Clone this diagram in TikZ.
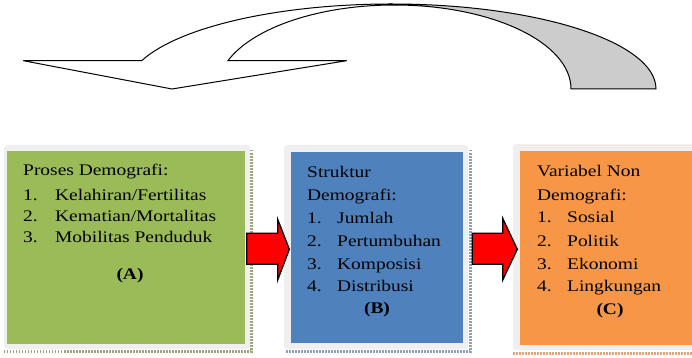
\documentclass[tikz,border=0pt]{standalone}
\usepackage{fontspec}
\setmainfont[FakeStretch=1.2]{Liberation Serif}
\definecolor{ogreen}{HTML}{9BBB59}
\definecolor{oblue}{HTML}{4F81BD}
\definecolor{oorange}{HTML}{F79646}
\definecolor{framegray}{HTML}{EFEFEF}
\definecolor{dotA}{HTML}{9DA47E}
\definecolor{dotB}{HTML}{8E9FC2}
\definecolor{dotC}{HTML}{E2A67A}
\begin{document}
\begin{tikzpicture}[x=1pt,y=-1pt,
  frame/.style={fill=framegray, rounded corners=3pt, inner sep=0pt, draw=none},
  colbox/.style={inner sep=0pt, draw=none},
  txt/.style={anchor=base west, inner sep=0pt, font=\fontsize{16.2}{20}\selectfont},
  lbl/.style={anchor=base, inner sep=0pt, font=\fontsize{16.2}{20}\selectfont\bfseries},
  shadow/.style={line width=3pt, dash pattern=on 1.5pt off 1.5pt},
  redarrow/.style={fill=red, draw=black, line width=1.3pt, line join=miter}]
\useasboundingbox (0,0) rectangle (692,358);

% top curved arrow
\fill[white, draw=black, line width=1pt, line join=miter]
  (23.3,60.7) -- (141.7,60.7)
  arc[start angle=199.45, end angle=270, x radius=264.7, y radius=85]
  -- (394.3,5)
  arc[start angle=270, end angle=199.69, x radius=176.7, y radius=84]
  -- (346.7,60.7) -- (172,89) -- cycle;
\fill[gray!40, draw=black, line width=1pt]
  (391.3,4)
  arc[start angle=270, end angle=360, x radius=264.7, y radius=85]
  -- (571,89)
  arc[start angle=0, end angle=-90, x radius=176.7, y radius=84]
  -- cycle;

% box A
\draw[shadow, dotA] (251,150) -- (251,351.5) -- (4,351.5);
\node[frame, minimum width=246pt, minimum height=204pt] (frameA) at (127,247) {};
\node[colbox, fill=ogreen, minimum width=237.5pt, minimum height=192.5pt] (boxA) at (125.75,247.25) {};
\node[txt] (a0) at (23,175.7) {Proses Demografi:};
\node[txt] (a1n) at (23,200.7) {1.};
\node[txt] (a1) at (55,200.7) {Kelahiran/Fertilitas};
\node[txt] (a2n) at (23,221.7) {2.};
\node[txt] (a2) at (55,221.7) {Kematian/Mortalitas};
\node[txt] (a3n) at (23,242.5) {3.};
\node[txt] (a3) at (55,242.5) {Mobilitas Penduduk};
\node[lbl] (aL) at (130,279) {(A)};

% box B
\draw[shadow, dotB] (470,150) -- (470,351.5) -- (285,351.5);
\node[frame, minimum width=184pt, minimum height=204pt] (frameB) at (376,247) {};
\node[colbox, fill=oblue, minimum width=172pt, minimum height=191pt] (boxB) at (377,247.5) {};
\node[txt] (b0) at (307,177.5) {Struktur};
\node[txt] (b00) at (307,200.5) {Demografi:};
\node[txt] (b1n) at (307,223.3) {1.};
\node[txt] (b1) at (337,223.3) {Jumlah};
\node[txt] (b2n) at (307,246) {2.};
\node[txt] (b2) at (337,246) {Pertumbuhan};
\node[txt] (b3n) at (307,269) {3.};
\node[txt] (b3) at (337,269) {Komposisi};
\node[txt] (b4n) at (307,291.7) {4.};
\node[txt] (b4) at (337,291.7) {Distribusi};
\node[lbl] (bL) at (377,313.5) {(B)};

% box C
\draw[shadow, dotC] (513,353) -- (692,353);
\node[frame, minimum width=187pt, minimum height=206pt] (frameC) at (606.5,247) {};
\node[colbox, fill=oorange, minimum width=180pt, minimum height=194pt] (boxC) at (610,248) {};
\node[txt] (c0) at (537,176.7) {Variabel Non};
\node[txt] (c00) at (537,200) {Demografi:};
\node[txt] (c1n) at (537,222.7) {1.};
\node[txt] (c1) at (567,222.7) {Sosial};
\node[txt] (c2n) at (537,246) {2.};
\node[txt] (c2) at (567,246) {Politik};
\node[txt] (c3n) at (537,269) {3.};
\node[txt] (c3) at (567,269) {Ekonomi};
\node[txt] (c4n) at (537,291.7) {4.};
\node[txt] (c4) at (567,291.7) {Lingkungan};
\node[lbl] (cL) at (610,314) {(C)};

% red arrows
\draw[redarrow] (246.7,233.3) -- (277.7,233.3) -- (277.7,219.3) -- (289.3,249.3)
  -- (277.7,280) -- (277.7,264.3) -- (246.7,264.3) -- cycle;
\draw[redarrow] (472.3,233.3) -- (502.7,233.3) -- (502.7,218.3) -- (517.3,249.3)
  -- (502.7,280) -- (502.7,264.3) -- (472.3,264.3) -- cycle;
\end{tikzpicture}
\end{document}
